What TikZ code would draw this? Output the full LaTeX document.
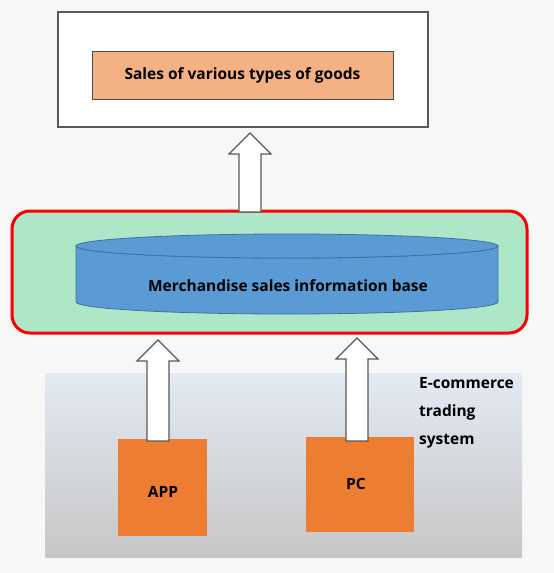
\documentclass[tikz,border=0pt]{standalone}
\usepackage{fontspec}
\setmainfont{Open Sans}
\usetikzlibrary{calc}
\definecolor{pagebg}{HTML}{F7F7F7}
\definecolor{salesfill}{HTML}{F4B183}
\definecolor{basefill}{HTML}{AEE6C8}
\definecolor{cylfill}{HTML}{5B9BD5}
\definecolor{cylline}{HTML}{41719C}
\definecolor{srcfill}{HTML}{ED7D31}
\definecolor{shoptop}{HTML}{E4EAF3}
\definecolor{shopbottom}{HTML}{C6C6C6}
\begin{document}
\begin{tikzpicture}[x=1pt,y=-1pt,font=\fontsize{15.5}{18}\selectfont\bfseries]
    \tikzstyle{frame}=[draw=black!65, line width=1.3pt, fill=white, minimum width=370pt, minimum height=115pt]
    \tikzstyle{salesbox}=[draw=black!70, line width=1pt, fill=salesfill, minimum width=301pt, minimum height=48pt]
    \tikzstyle{basebox}=[draw=red, line width=3pt, fill=basefill, rounded corners=18pt, minimum width=515pt, minimum height=122pt]
    \tikzstyle{shop}=[top color=shoptop, bottom color=shopbottom, minimum width=477pt, minimum height=184pt, inner sep=0pt]
    \tikzstyle{src}=[fill=srcfill, inner sep=0pt]
    \tikzstyle{blockarr}=[draw=black!65, line width=1.2pt, fill=white, line join=miter]
    \def\shaft{11}
    \def\head{21}
    \def\headlen{21}
    \def\blockarrow#1#2{
        \draw[blockarr] ($(#1)+(-\shaft,0)$) -- ($(#2)+(-\shaft,\headlen)$) -- ($(#2)+(-\head,\headlen)$)
            -- (#2) -- ($(#2)+(\head,\headlen)$) -- ($(#2)+(\shaft,\headlen)$) -- ($(#1)+(\shaft,0)$) -- cycle;
    }

    \useasboundingbox[fill=pagebg] (0,0) rectangle (554,573);

    % top: result
    \node[frame] (goods) at (243,69.5) {};
    \node[salesbox] (sales) at (242.5,75) {Sales of various types of goods};

    % middle: information base
    \node[basebox] (base) at (269.5,272) {};
    \draw[fill=cylfill, draw=cylline, line width=0.8pt]
        (76,246) -- (76,302) arc[start angle=180, end angle=360, x radius=211, y radius=-12]
        -- (498,246) arc[start angle=0, end angle=-180, x radius=211, y radius=-12] -- cycle;
    \draw[fill=cylfill, draw=cylline, line width=0.8pt] (287,246) ellipse[x radius=211, y radius=12];
    \node (info) at (288,286) {Merchandise sales information base};

    % bottom: trading system
    \node[shop] (trade) at (283.5,465) {};
    \node[src, minimum width=89pt, minimum height=97pt] (app) at (162.5,487.5) {};
    \node[src, minimum width=108pt, minimum height=95pt] (pc) at (360,484.5) {};
    \node at (163,492) {APP};
    \node at (356,484) {PC};
    \node[anchor=north west, align=left, inner sep=0pt, font=\fontsize{15.5}{28}\selectfont\bfseries] (tradename) at (419,377)
        {E-commerce\\trading\\system};

    % arrows
    \coordinate (appfoot) at (158,441);
    \coordinate (apptip) at (158,340);
    \coordinate (pcfoot) at (357,441);
    \coordinate (pctip) at (357,338);
    \coordinate (basefoot) at (250,212);
    \coordinate (basetip) at (250,133);
    \blockarrow{appfoot}{apptip}
    \blockarrow{pcfoot}{pctip}
    \blockarrow{basefoot}{basetip}
\end{tikzpicture}
\end{document}
